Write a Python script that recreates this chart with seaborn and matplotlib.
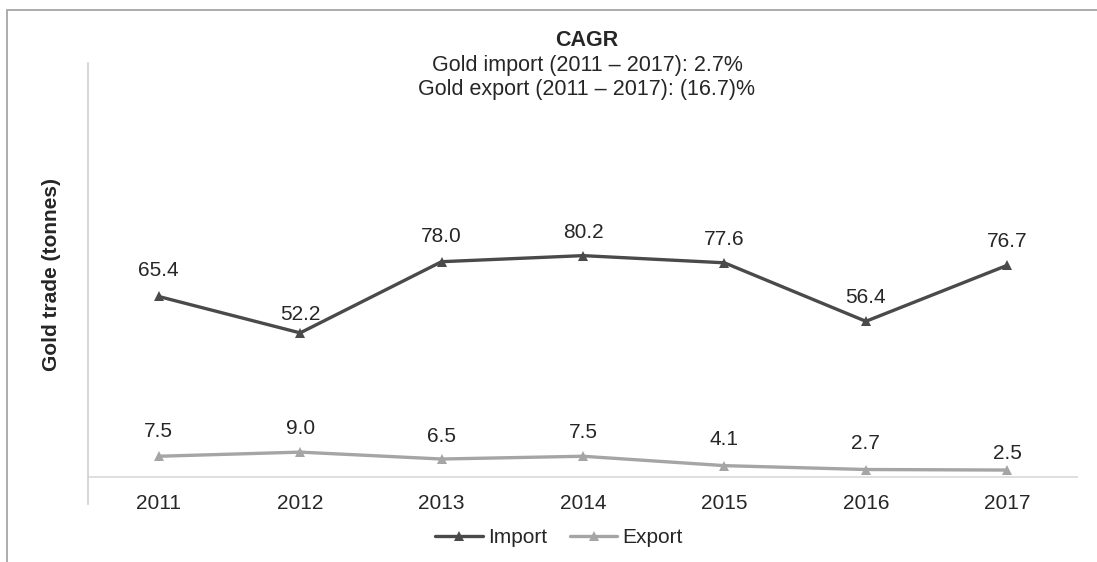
import matplotlib
matplotlib.use("Agg")
import matplotlib.pyplot as plt
from matplotlib.patches import Rectangle
import seaborn as sns
import pandas as pd

years = ["2011", "2012", "2013", "2014", "2015", "2016", "2017"]
gold_import = [65.4, 52.2, 78.0, 80.2, 77.6, 56.4, 76.7]
gold_export = [7.5, 9.0, 6.5, 7.5, 4.1, 2.7, 2.5]
series_names = ["Import", "Export"]
title_lines = ["CAGR",
               "Gold import (2011 \u2013 2017): 2.7%",
               "Gold export (2011 \u2013 2017): (16.7)%"]
y_label = "Gold trade (tonnes)"

# vertical offsets (points) for the value labels
import_label_dy = [19, 13, 18, 17, 17, 17, 17]
export_label_dy = [18, 17, 16, 17, 19, 19, 12]

sns.set_style("white")
plt.rcParams["font.family"] = ["Liberation Sans", "DejaVu Sans"]

FS = 15
TXT = "#262626"

df = pd.DataFrame({
    "x": list(range(len(years))) * 2,
    "value": gold_import + gold_export,
    "series": [series_names[0]] * len(years) + [series_names[1]] * len(years),
})

palette = {"Import": "#4a4a4a", "Export": "#a5a5a5"}

fig = plt.figure(figsize=(10.97, 5.62), dpi=100)
ax = fig.add_axes([0.0802, 0.1032, 0.9025, 0.7847])

sns.lineplot(data=df, x="x", y="value", hue="series", palette=palette,
             style="series", markers={"Import": "^", "Export": "^"},
             dashes=False, linewidth=2.4, markersize=7, markeredgewidth=0,
             ax=ax, legend=True)

ax.set_xlim(-0.5, len(years) - 0.5)
ax.set_ylim(-9.8, 150)
ax.axhline(0, color="#d9d9d9", linewidth=1.2, zorder=0)

for s in ["top", "right", "bottom"]:
    ax.spines[s].set_visible(False)
ax.spines["left"].set_color("#d0d0d0")
ax.spines["left"].set_linewidth(1.2)

ax.set_yticks([])
ax.set_xticks(range(len(years)))
ax.set_xticklabels(years, fontsize=FS, color=TXT)
ax.tick_params(axis="x", length=0, pad=-7)
ax.set_xlabel("")
ax.set_ylabel(y_label, fontsize=FS, fontweight="bold", color=TXT, va="center")
ax.yaxis.set_label_coords(-0.0364, 0.5215)

for vals, dys in ((gold_import, import_label_dy), (gold_export, export_label_dy)):
    for i, (v, dy) in enumerate(zip(vals, dys)):
        ax.annotate(f"{v:.1f}", (i, v), xytext=(0, dy), textcoords="offset points",
                    ha="center", va="center", fontsize=FS, color=TXT)

handles, labels = ax.get_legend_handles_labels()
ax.legend(handles, labels, loc="center", bbox_to_anchor=(0.476, -0.077),
          ncol=2, frameon=False, fontsize=FS, handlelength=2.3,
          handletextpad=0.25, columnspacing=1.05, labelcolor=TXT)

title_x = 587 / 1097
for line, ypx, weight in zip(title_lines, (40, 65, 90), ("bold", "normal", "normal")):
    fig.text(title_x, 1 - ypx / 562, line, ha="center", va="center",
             fontsize=15.5, fontweight=weight, color=TXT)

# outer frame (only top and left edges visible)
fig.patches.append(Rectangle((7 / 1097, -0.1), 1.2, 1 - 9.5 / 562 + 0.1,
                             transform=fig.transFigure, fill=False,
                             edgecolor="#a6a6a6", linewidth=1.3, zorder=-1))

fig.savefig("out.png", dpi=100)
